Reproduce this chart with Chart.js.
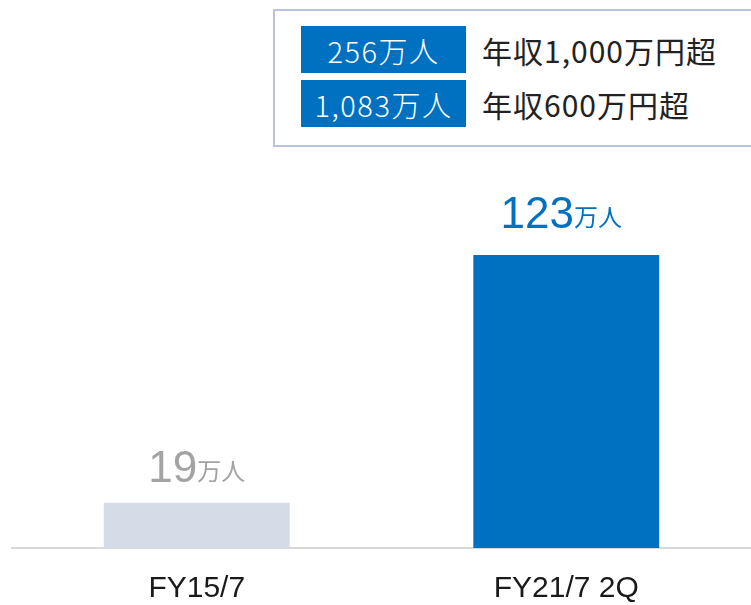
<!DOCTYPE html>
<html>
<head>
<meta charset="utf-8">
<script src="https://cdn.jsdelivr.net/npm/chart.js@4/dist/chart.umd.min.js"></script>
<style>
  html, body { margin: 0; padding: 0; background: #fff; }
  #wrap { position: relative; width: 751px; height: 605px; overflow: hidden; }
  #chart { position: absolute; left: 0; top: 0; }
  #legend-box {
    position: absolute; left: 273px; top: 9px; width: 500px; height: 138px;
    border: 2px solid #b9c3dd; box-sizing: border-box; background: #fff;
  }
  .legend-row { position: absolute; left: 26px; display: flex; align-items: center; }
  .legend-val {
    width: 165px; height: 47px; background: #0070c0; color: #fff;
    font-family: "Noto Sans CJK JP", sans-serif; font-weight: 300; font-size: 29px;
    display: flex; align-items: center; justify-content: center; letter-spacing: 1.5px;
  }
  .legend-text {
    margin-left: 16px; color: #222;
    font-family: "Noto Sans CJK JP", sans-serif; font-size: 30px; letter-spacing: 1px;
  }
</style>
</head>
<body>
<div id="wrap">
  <canvas id="chart" width="751" height="605"></canvas>
  <div id="legend-box"></div>
</div>
<script>
/* ---------- DATA ---------- */
const categories = ['FY15/7', 'FY21/7 2Q'];
const values = [19, 123];
const unit = '万人';
const legendValues = [256, 1083];
const legendLabels = ['年収1,000万円超', '年収600万円超'];

const barColors = ['#d5dbe7', '#0070c0'];
const labelColors = ['#a3a3a3', '#0070c0'];

/* ---------- LEGEND BOX ---------- */
const box = document.getElementById('legend-box');
legendValues.forEach((v, i) => {
  const row = document.createElement('div');
  row.className = 'legend-row';
  row.style.top = (15 + i * 54) + 'px';
  row.innerHTML = `<div class="legend-val">${v.toLocaleString('en-US')}${unit}</div>` +
                  `<div class="legend-text">${legendLabels[i]}</div>`;
  box.appendChild(row);
});

/* ---------- VALUE LABELS ---------- */
const valueLabels = {
  id: 'valueLabels',
  afterDatasetsDraw(chart) {
    const ctx = chart.ctx;
    const meta = chart.getDatasetMeta(0);
    meta.data.forEach((bar, i) => {
      const num = String(values[i]);
      ctx.save();
      ctx.font = '44px "Liberation Sans", Arial, sans-serif';
      const numW = ctx.measureText(num).width;
      ctx.font = '24px "Noto Sans CJK JP", sans-serif';
      const unitW = ctx.measureText(unit).width;
      const x0 = bar.x - (numW + unitW) / 2 - (i === 1 ? 5 : 0);
      const y = bar.y - (i === 1 ? 27 : 21);
      ctx.fillStyle = labelColors[i];
      ctx.textBaseline = 'alphabetic';
      ctx.textAlign = 'left';
      ctx.font = '44px "Liberation Sans", Arial, sans-serif';
      ctx.fillText(num, x0, y);
      ctx.font = '24px "Noto Sans CJK JP", sans-serif';
      ctx.fillText(unit, x0 + numW, y - 2);
      ctx.restore();
    });
  }
};

/* ---------- CHART ---------- */
new Chart(document.getElementById('chart'), {
  type: 'bar',
  data: {
    labels: categories,
    datasets: [{
      data: values,
      backgroundColor: barColors,
      borderWidth: 0,
      barPercentage: 0.503,
      categoryPercentage: 1
    }]
  },
  options: {
    responsive: false,
    animation: false,
    layout: { padding: { left: 12, right: 0, top: 0, bottom: 0 } },
    plugins: { legend: { display: false }, tooltip: { enabled: false } },
    scales: {
      x: {
        grid: { display: false, drawTicks: false },
        border: { color: '#d9d9d9', width: 2 },
        ticks: {
          color: '#1a1a1a', padding: 23,
          font: { family: '"Liberation Sans", Arial, sans-serif', size: 30 }
        },
        afterFit(scale) { scale.height = 57; }
      },
      y: { display: false, min: 0, max: 230 }
    }
  },
  plugins: [valueLabels]
});
</script>
</body>
</html>
